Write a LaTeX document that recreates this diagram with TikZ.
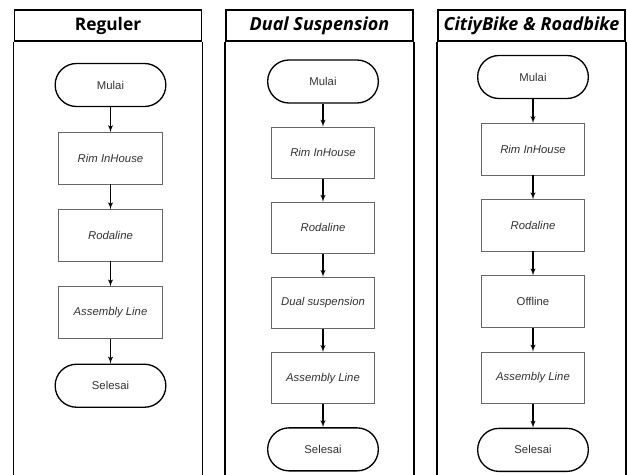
\documentclass[tikz,border=0pt]{standalone}
\usepackage{fontspec}
\setmainfont{Liberation Sans}
\newfontfamily\titlefont{Open Sans}
\usepackage{tikz}
\usetikzlibrary{shapes,arrows,positioning}

\begin{document}
\begin{tikzpicture}[x=0.75pt, y=-0.75pt, node distance=18.75pt, >=latex']
    \tikzstyle{title} = [rectangle, draw, line width=1.2pt, inner sep=0pt,
        minimum width=140.5pt, minimum height=23.5pt,
        font=\titlefont\bfseries\fontsize{13}{15}\selectfont]
    \tikzstyle{block} = [rectangle, draw=black!60, line width=0.6pt, fill=white,
        minimum width=77.5pt, minimum height=38.5pt, text=black!80,
        font=\fontsize{8.5}{10}\selectfont\itshape]
    \tikzstyle{terminal} = [rectangle, rounded corners=16pt, draw, line width=1pt,
        minimum width=83pt, minimum height=32.25pt, text=black!80,
        font=\fontsize{8.5}{10}\selectfont]
    \tikzstyle{line} = [draw, -latex', line width=0.8pt]
    \tikzstyle{frame} = [draw, line width=1.2pt]

    \useasboundingbox (0,0) rectangle (627,474);

    % Reguler
    \node [title] (reguler) at (108,25.5) {Reguler};
    \path [frame] (reguler.south west) -- ++(0,445);
    \path [frame] (reguler.south east) -- ++(0,445);

    \node [terminal] (mulai1) at (110.5,85) {Mulai};
    \node [block, below=of mulai1] (rim1) {Rim InHouse};
    \node [block, below=of rim1] (roda1) {Rodaline};
    \node [block, below=of roda1] (asm1) {Assembly Line};
    \node [terminal, below=of asm1] (selesai1) {Selesai};

    \path [line] (mulai1) -- (rim1);
    \path [line] (rim1) -- (roda1);
    \path [line] (roda1) -- (asm1);
    \path [line] (asm1) -- (selesai1);

    % Dual Suspension
    \node [title, font=\titlefont\bfseries\itshape\fontsize{13.5}{15}\selectfont] (dual) at (319.5,25.5) {Dual Suspension};
    \path [frame] (dual.south west) -- ++(0,445);
    \path [frame] (dual.south east) -- ++(0,445);

    \begin{scope}[node distance=17.25pt]
    \node [terminal] (mulai2) at (323,81.5) {Mulai};
    \node [block, below=of mulai2] (rim2) {Rim InHouse};
    \node [block, below=of rim2] (roda2) {Rodaline};
    \node [block, below=of roda2] (susp2) {Dual suspension};
    \node [block, below=of susp2] (asm2) {Assembly Line};
    \node [terminal, below=of asm2] (selesai2) {Selesai};
    \end{scope}

    \path [line] (mulai2) -- (rim2);
    \path [line] (rim2) -- (roda2);
    \path [line] (roda2) -- (susp2);
    \path [line] (susp2) -- (asm2);
    \path [line] (asm2) -- (selesai2);

    % CitiyBike & Roadbike
    \node [title, font=\titlefont\bfseries\itshape\fontsize{13.5}{15}\selectfont] (city) at (531.5,25.5) {CitiyBike \& Roadbike};
    \path [frame] (city.south west) -- ++(0,445);
    \path [frame] (city.south east) -- ++(0,445);

    \begin{scope}[node distance=18pt]
    \node [terminal] (mulai3) at (533,77) {Mulai};
    \node [block, below=of mulai3] (rim3) {Rim InHouse};
    \node [block, below=of rim3] (roda3) {Rodaline};
    \node [block, below=of roda3, font=\fontsize{8.5}{10}\selectfont] (off3) {Offline};
    \node [block, below=of off3] (asm3) {Assembly Line};
    \node [terminal, below=of asm3] (selesai3) {Selesai};
    \end{scope}

    \path [line] (mulai3) -- (rim3);
    \path [line] (rim3) -- (roda3);
    \path [line] (roda3) -- (off3);
    \path [line] (off3) -- (asm3);
    \path [line] (asm3) -- (selesai3);
\end{tikzpicture}
\end{document}
